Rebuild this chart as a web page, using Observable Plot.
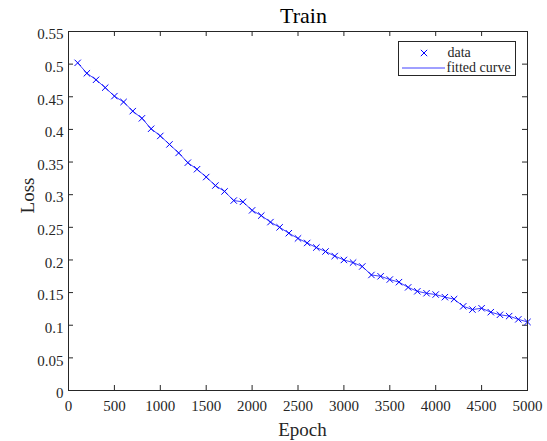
<!DOCTYPE html>
<html>
<head>
<meta charset="utf-8">
<script src="https://cdn.jsdelivr.net/npm/d3@7"></script>
<script src="https://cdn.jsdelivr.net/npm/@observablehq/plot@0.6"></script>
<style>
  html, body { margin: 0; padding: 0; background: #fff; }
  #wrap { position: relative; width: 547px; height: 441px; }
  #legend { position: absolute; left: 398px; top: 41px; }
  svg text { font-family: "Liberation Serif", "Times New Roman", serif !important; }
</style>
</head>
<body>
<div id="wrap"></div>
<script>
// ---- data ----
const epochs = [100, 200, 300, 400, 500, 600, 700, 800, 900, 1000,
  1100, 1200, 1300, 1400, 1500, 1600, 1700, 1800, 1900, 2000,
  2100, 2200, 2300, 2400, 2500, 2600, 2700, 2800, 2900, 3000,
  3100, 3200, 3300, 3400, 3500, 3600, 3700, 3800, 3900, 4000,
  4100, 4200, 4300, 4400, 4500, 4600, 4700, 4800, 4900, 5000];
const losses = [0.502, 0.486, 0.476, 0.464, 0.451, 0.442, 0.428, 0.417, 0.401, 0.390,
  0.377, 0.364, 0.349, 0.339, 0.327, 0.314, 0.305, 0.291, 0.289, 0.276,
  0.268, 0.258, 0.250, 0.241, 0.233, 0.226, 0.219, 0.213, 0.206, 0.200,
  0.196, 0.190, 0.177, 0.175, 0.170, 0.166, 0.158, 0.152, 0.149, 0.147,
  0.143, 0.140, 0.129, 0.124, 0.126, 0.120, 0.116, 0.114, 0.109, 0.105];
const xTicks = [0, 500, 1000, 1500, 2000, 2500, 3000, 3500, 4000, 4500, 5000];
const yTicks = [0, 0.05, 0.1, 0.15, 0.2, 0.25, 0.3, 0.35, 0.4, 0.45, 0.5, 0.55];
const xTickLabels = ["0", "500", "1000", "1500", "2000", "2500", "3000", "3500", "4000", "4500", "5000"];
const yTickLabels = ["0", "0.05", "0.1", "0.15", "0.2", "0.25", "0.3", "0.35", "0.4", "0.45", "0.5", "0.55"];
const titleText = "Train";
const xLabel = "Epoch";
const yLabel = "Loss";
const legendLabels = ["data", "fitted curve"];

const table = epochs.map((e, i) => ({epoch: e, loss: losses[i]}));

const axisColor = "#262626";
const blue = "#0000ff";
const font = "Liberation Serif";

const chart = Plot.plot({
  width: 547,
  height: 441,
  marginLeft: 68,
  marginRight: 20,
  marginTop: 31,
  marginBottom: 51,
  style: {fontFamily: font, fontSize: "15px", color: axisColor, background: "#fff"},
  x: {domain: [0, 5000]},
  y: {domain: [0, 0.55]},
  marks: [
    Plot.axisX({ticks: xTicks, tickSize: 0, tickPadding: 10, label: null, fontFamily: font, fontVariant: "normal",
      tickFormat: d => xTickLabels[xTicks.indexOf(d)], fill: axisColor}),
    Plot.axisY({ticks: yTicks, tickSize: 0, tickPadding: 5, label: null, dy: 3, fontFamily: font, fontVariant: "normal",
      tickFormat: d => yTickLabels[yTicks.indexOf(d)], fill: axisColor}),
    // inward ticks on all four sides
    Plot.ruleX(xTicks, {x: d => d, insetTop: 354, stroke: axisColor}),
    Plot.ruleX(xTicks, {x: d => d, insetBottom: 354, stroke: axisColor}),
    Plot.ruleY(yTicks, {y: d => d, insetRight: 454, stroke: axisColor}),
    Plot.ruleY(yTicks, {y: d => d, insetLeft: 454, stroke: axisColor}),
    Plot.line(table, {x: "epoch", y: "loss", stroke: blue, strokeWidth: 1, strokeOpacity: 0.75}),
    Plot.dot(table, {x: "epoch", y: "loss", symbol: "times", r: 3, stroke: blue, strokeWidth: 1}),
    Plot.frame({stroke: axisColor, strokeWidth: 1}),
    Plot.text([titleText], {text: d => d, frameAnchor: "top", textAnchor: "middle", lineAnchor: "middle",
      dy: -15.3, dx: 5.5, fontSize: 22, fontFamily: font, fill: "#000"}),
    Plot.text([xLabel], {text: d => d, frameAnchor: "bottom", textAnchor: "middle", lineAnchor: "middle",
      dy: 39, dx: 4.5, fontSize: 19, fontFamily: font, fill: axisColor}),
    Plot.text([yLabel], {text: d => d, frameAnchor: "left", textAnchor: "middle", lineAnchor: "middle", rotate: -90,
      dx: -41, dy: -15.5, fontSize: 19, fontFamily: font, fill: axisColor})
  ]
});

const wrap = document.getElementById("wrap");
wrap.appendChild(chart);

// legend overlay
const lg = d3.select(wrap).append("svg")
  .attr("id", "legend")
  .attr("width", 118).attr("height", 36);
lg.append("rect").attr("x", 0.5).attr("y", 0.5).attr("width", 117).attr("height", 34)
  .attr("fill", "#fff").attr("stroke", axisColor);
lg.append("path").attr("d", d3.symbol(d3.symbolTimes, 28)())
  .attr("transform", "translate(26,12)").attr("fill", "none").attr("stroke", blue);
lg.append("line").attr("x1", 4).attr("x2", 47).attr("y1", 27).attr("y2", 27)
  .attr("stroke", blue).attr("stroke-opacity", 0.75);
lg.append("text").attr("x", 49.5).attr("y", 12).attr("dy", "0.32em")
  .attr("font-family", font).attr("font-size", 14).attr("fill", axisColor).text(legendLabels[0]);
lg.append("text").attr("x", 48.5).attr("y", 27).attr("dy", "0.32em")
  .attr("font-family", font).attr("font-size", 14).attr("fill", axisColor).text(legendLabels[1]);
</script>
</body>
</html>
